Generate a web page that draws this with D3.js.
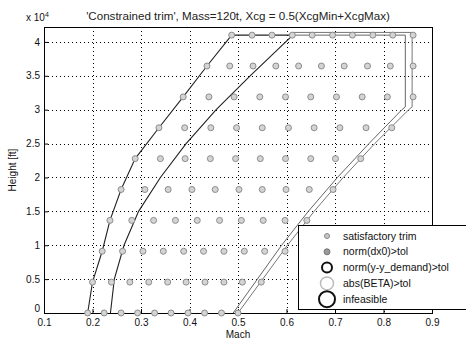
<!DOCTYPE html>
<html>
<head>
<meta charset="utf-8">
<script src="https://cdn.jsdelivr.net/npm/d3@7"></script>
<style>
  body { margin: 0; background: #fff; }
  svg { display: block; font-family: "Liberation Sans", Arial, sans-serif; }
</style>
</head>
<body>
<svg id="chart" width="466" height="340"></svg>
<script>
// trim grid: 10 altitude rows, 10 Mach points each
const rowHeights = [0, 4556, 9111, 13667, 18222, 22778, 27333, 31889, 36444, 41000]
const trimMach = [
  [0.190, 0.224, 0.259, 0.293, 0.328, 0.362, 0.397, 0.431, 0.466, 0.500],
  [0.200, 0.239, 0.277, 0.316, 0.355, 0.393, 0.432, 0.471, 0.509, 0.548],
  [0.220, 0.262, 0.304, 0.346, 0.388, 0.429, 0.471, 0.513, 0.555, 0.597],
  [0.236, 0.281, 0.326, 0.371, 0.416, 0.462, 0.507, 0.552, 0.597, 0.642],
  [0.259, 0.308, 0.356, 0.405, 0.453, 0.502, 0.550, 0.599, 0.647, 0.696],
  [0.288, 0.340, 0.391, 0.443, 0.495, 0.546, 0.598, 0.650, 0.701, 0.753],
  [0.337, 0.390, 0.444, 0.497, 0.550, 0.604, 0.657, 0.710, 0.764, 0.817],
  [0.387, 0.440, 0.492, 0.545, 0.598, 0.650, 0.703, 0.756, 0.808, 0.861],
  [0.436, 0.483, 0.531, 0.578, 0.625, 0.672, 0.719, 0.767, 0.814, 0.861],
  [0.487, 0.529, 0.570, 0.612, 0.653, 0.695, 0.736, 0.778, 0.819, 0.861]
]

// envelope boundaries
const minMach = [0.190, 0.200, 0.220, 0.236, 0.259, 0.288, 0.337, 0.387, 0.436, 0.487]
const marginHeights = [0, 5000, 10000, 15000, 20000, 25000, 30000, 35000, 41000]
const marginMach = [0.237, 0.245, 0.265, 0.295, 0.340, 0.393, 0.455, 0.525, 0.613]
const topHeights = [41000, 41000]
const topMach = [0.487, 0.613]
const innerHeights = [0, 5000, 10000, 15000, 20000, 25000, 30000, 30400, 41000, 41000]
const innerMach = [0.490, 0.540, 0.590, 0.645, 0.705, 0.770, 0.838, 0.845, 0.845, 0.613]
const outerHeights = [0, 5000, 10000, 15000, 20000, 25000, 30000, 30400, 41400, 41400]
const outerMach = [0.500, 0.551, 0.602, 0.657, 0.717, 0.782, 0.852, 0.859, 0.859, 0.613]

const xTicks = [0.1, 0.2, 0.3, 0.4, 0.5, 0.6, 0.7, 0.8, 0.9]
const yTicks = [0, 5000, 10000, 15000, 20000, 25000, 30000, 35000, 40000]
const legendLabels = ['satisfactory trim', 'norm(dx0)>tol', 'norm(y-y_demand)>tol', 'abs(BETA)>tol', 'infeasible']

const svg = d3.select('#chart')
const plotL = 44, plotR = 432, plotT = 27, plotB = 313

const x = d3.scaleLinear().domain([0.1, 0.9]).range([plotL, plotR])
const y = d3.scaleLinear().domain([0, 42200]).range([plotB, plotT])

// grid
const grid = svg.append('g')
  .attr('stroke', '#000')
  .attr('stroke-width', 1)
  .attr('stroke-dasharray', '1,3')
grid.selectAll('.gx')
  .data(xTicks.slice(1, -1))
  .join('line')
  .attr('x1', d => Math.round(x(d)) + 0.5)
  .attr('x2', d => Math.round(x(d)) + 0.5)
  .attr('y1', plotT)
  .attr('y2', plotB)
grid.selectAll('.gy')
  .data(yTicks.slice(1))
  .join('line')
  .attr('y1', d => Math.round(y(d)) + 0.5)
  .attr('y2', d => Math.round(y(d)) + 0.5)
  .attr('x1', plotL)
  .attr('x2', plotR)

// axes
const xAxis = svg.append('g')
  .attr('transform', `translate(0,${plotB})`)
  .call(d3.axisBottom(x).tickValues(xTicks).tickSize(-4).tickPadding(6).tickFormat(d3.format('.1f')))
const yAxis = svg.append('g')
  .attr('transform', `translate(${plotL},0)`)
  .call(d3.axisLeft(y).tickValues(yTicks).tickSize(-4).tickPadding(4).tickFormat(d => d / 10000))
svg.selectAll('.domain').remove()
svg.selectAll('.tick text').attr('font-size', 10).attr('fill', '#111')
svg.selectAll('.tick line').attr('stroke', '#000')
// the zero label sits a little above the first Mach label
yAxis.selectAll('.tick text').filter(d => d === 0).attr('y', -5)

svg.append('rect')
  .attr('x', plotL + 0.5)
  .attr('y', plotT + 0.5)
  .attr('width', plotR - plotL)
  .attr('height', plotB - plotT)
  .attr('fill', 'none')
  .attr('stroke', '#000')

// boundary lines
const line = d3.line().x(d => x(d[0])).y(d => y(d[1]))
const curves = [
  { pts: d3.zip(minMach, rowHeights), color: '#222', w: 1.1 },
  { pts: d3.zip(marginMach, marginHeights), color: '#222', w: 1.1 },
  { pts: d3.zip(topMach, topHeights), color: '#222', w: 1.3 },
  { pts: d3.zip(innerMach, innerHeights), color: '#666', w: 1 },
  { pts: d3.zip(outerMach, outerHeights), color: '#777', w: 1 }
]
svg.append('g')
  .selectAll('path')
  .data(curves)
  .join('path')
  .attr('d', d => line(d.pts))
  .attr('fill', 'none')
  .attr('stroke', d => d.color)
  .attr('stroke-width', d => d.w)

// trim points
const points = trimMach.flatMap((row, i) => row.map(m => [m, rowHeights[i]]))
svg.append('g')
  .selectAll('circle')
  .data(points)
  .join('circle')
  .attr('cx', d => x(d[0]))
  .attr('cy', d => y(d[1]))
  .attr('r', 3)
  .attr('fill', '#d4d4d4')
  .attr('stroke', '#8c8c8c')
  .attr('stroke-width', 1)

// labels
svg.append('text')
  .attr('x', (plotL + plotR) / 2)
  .attr('y', 20)
  .attr('text-anchor', 'middle')
  .attr('font-size', 11.6)
  .attr('fill', '#222')
  .text("'Constrained trim', Mass=120t, Xcg = 0.5(XcgMin+XcgMax)")

const exp = svg.append('text').attr('x', 26).attr('y', 21).attr('font-size', 10).attr('fill', '#111')
exp.append('tspan').text('x 10')
exp.append('tspan').attr('font-size', 7).attr('dy', -4).text('4')

svg.append('text')
  .attr('x', (plotL + plotR) / 2)
  .attr('y', 338)
  .attr('text-anchor', 'middle')
  .attr('font-size', 10)
  .attr('fill', '#111')
  .text('Mach')

svg.append('text')
  .attr('transform', `translate(16,${(plotT + plotB) / 2}) rotate(-90)`)
  .attr('text-anchor', 'middle')
  .attr('font-size', 10)
  .attr('fill', '#111')
  .text('Height [ft]')

// legend (runs off the right edge, as in the original export)
const legend = svg.append('g').attr('transform', 'translate(298,225)')
legend.append('rect')
  .attr('x', 0.5)
  .attr('y', 0.5)
  .attr('width', 200)
  .attr('height', 84)
  .attr('fill', '#fff')
  .attr('stroke', '#000')

const legendMarks = [
  { r: 2.5, fill: '#c8c8c8', stroke: '#888', w: 1 },
  { r: 3, fill: '#999', stroke: '#777', w: 1 },
  { r: 5, fill: 'none', stroke: '#111', w: 2 },
  { r: 6.5, fill: 'none', stroke: '#bbb', w: 1.5 },
  { r: 8, fill: 'none', stroke: '#111', w: 2 }
]
const rows = legend.selectAll('g.item')
  .data(legendLabels)
  .join('g')
  .attr('transform', (_, i) => `translate(0,${11 + i * 15.8})`)
rows.append('circle')
  .attr('cx', 29)
  .attr('cy', 0)
  .attr('r', (_, i) => legendMarks[i].r)
  .attr('fill', (_, i) => legendMarks[i].fill)
  .attr('stroke', (_, i) => legendMarks[i].stroke)
  .attr('stroke-width', (_, i) => legendMarks[i].w)
rows.append('text')
  .attr('x', 45)
  .attr('y', 0)
  .attr('dy', '0.35em')
  .attr('font-size', 10.5)
  .attr('fill', '#111')
  .text(d => d)
</script>
</body>
</html>
